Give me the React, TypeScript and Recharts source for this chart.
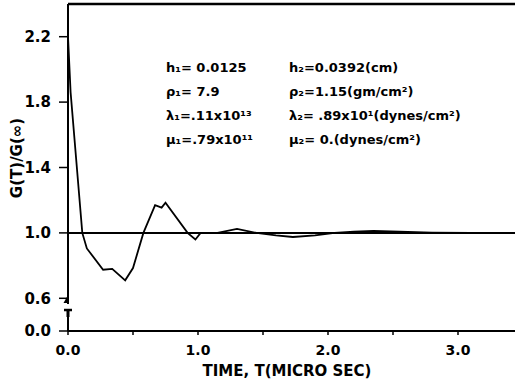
import React from 'react';
import { LineChart, Line, XAxis, YAxis, ReferenceLine, ReferenceDot, Customized } from 'recharts';

const timeValues = [0, 0.02, 0.11, 0.145, 0.27, 0.34, 0.44, 0.5, 0.58, 0.67, 0.72, 0.75, 0.92, 0.98, 1.02, 1.15, 1.3, 1.45, 1.6, 1.73, 1.9, 2.05, 2.2, 2.35, 2.55, 2.8, 3.1, 3.6];
const ratioValues = [2.2, 1.86, 1.0, 0.905, 0.775, 0.78, 0.71, 0.785, 1.0, 1.17, 1.155, 1.185, 1.0, 0.96, 1.0, 1.0, 1.025, 1.0, 0.985, 0.975, 0.985, 1.0, 1.008, 1.012, 1.008, 1.002, 1.0, 1.0];
const xTicks = [0, 0.5, 1, 1.5, 2, 2.5, 3, 3.5];
const yTicks = [0.4, 0.6, 1.0, 1.4, 1.8, 2.2];
const yTickLabels: Record<string, string> = { '0.4': '0.0', '0.6': '0.6', '1': '1.0', '1.4': '1.4', '1.8': '1.8', '2.2': '2.2' };
const paramsLeft = ['h\u2081= 0.0125', '\u03c1\u2081= 7.9', '\u03bb\u2081=.11x10\u00b9\u00b3', '\u03bc\u2081=.79x10\u00b9\u00b9'];
const paramsRight = ['h\u2082=0.0392(cm)', '\u03c1\u2082=1.15(gm/cm\u00b2)', '\u03bb\u2082= .89x10\u00b9(dynes/cm\u00b2)', '\u03bc\u2082= 0.(dynes/cm\u00b2)'];
const xLabel = 'TIME, T(MICRO SEC)';
const yLabel = 'G(T)/G(\u221e)';

const data = timeValues.map((t, i) => ({ t, g: ratioValues[i] }));

const FONT = '"DejaVu Sans", sans-serif';

const Overlay = () => (
  <g fontFamily={FONT} fontWeight="bold" fill="#000">
    {paramsLeft.map((s, i) => (
      <text key={'l' + i} x={166} y={72 + i * 24} fontSize={13}>{s}</text>
    ))}
    {paramsRight.map((s, i) => (
      <text key={'r' + i} x={289} y={72 + i * 24} fontSize={13}>{s}</text>
    ))}
    <text x={287} y={376} fontSize={15} textAnchor="middle">{xLabel}</text>
    <text x={22} y={158} fontSize={15} textAnchor="middle" transform="rotate(-90 22 158)">{yLabel}</text>
  </g>
);

const BreakMark = (props: any) => {
  const { cx, cy } = props;
  return (
    <g>
      <rect x={cx - 3} y={cy - 9} width={6} height={5} fill="#fff" />
      <path d={`M${cx - 4.5} ${cy - 10} L${cx} ${cy - 18} L${cx + 1} ${cy - 10} Z`} fill="#000" />
      <line x1={cx - 4} x2={cx + 4} y1={cy - 3} y2={cy - 3} stroke="#000" strokeWidth={2.5} />
      <line x1={cx} x2={cx} y1={cy - 3} y2={cy + 4} stroke="#000" strokeWidth={3} />
    </g>
  );
};

export default function App() {
  return (
    <div style={{ position: 'absolute', left: 0, top: 0, width: 515, height: 383, overflow: 'hidden', background: '#fff' }}>
      <LineChart width={560} height={383} data={data} margin={{ top: 4, right: 24, bottom: 12, left: 8 }}>
        <XAxis
          dataKey="t"
          type="number"
          domain={[0, 3.6]}
          ticks={xTicks}
          tickFormatter={(v: number) => (Number.isInteger(v) ? v.toFixed(1) : '')}
          tickSize={4}
          tickMargin={10}
          height={40}
          axisLine={{ stroke: '#000', strokeWidth: 2 }}
          tickLine={{ stroke: '#000', strokeWidth: 1.5 }}
          tick={{ fill: '#000', fontSize: 14, fontWeight: 'bold', fontFamily: FONT }}
          allowDataOverflow
        />
        <YAxis
          type="number"
          domain={[0.4, 2.4]}
          ticks={yTicks}
          tickFormatter={(v: number) => yTickLabels[String(v)] ?? ''}
          tickSize={9}
          tickMargin={8}
          width={60}
          axisLine={{ stroke: '#000', strokeWidth: 2 }}
          tickLine={{ stroke: '#000', strokeWidth: 1.5 }}
          tick={{ fill: '#000', fontSize: 15, fontWeight: 'bold', fontFamily: FONT }}
          allowDataOverflow
        />
        <ReferenceLine y={2.4} stroke="#000" strokeWidth={2.5} />
        <ReferenceLine y={1.0} stroke="#000" strokeWidth={2} />
        <Line
          type="linear"
          dataKey="g"
          stroke="#000"
          strokeWidth={1.8}
          dot={false}
          isAnimationActive={false}
        />
        <ReferenceDot x={0} y={0.51} r={0} shape={BreakMark} />
        <Customized component={Overlay} />
      </LineChart>
    </div>
  );
}
